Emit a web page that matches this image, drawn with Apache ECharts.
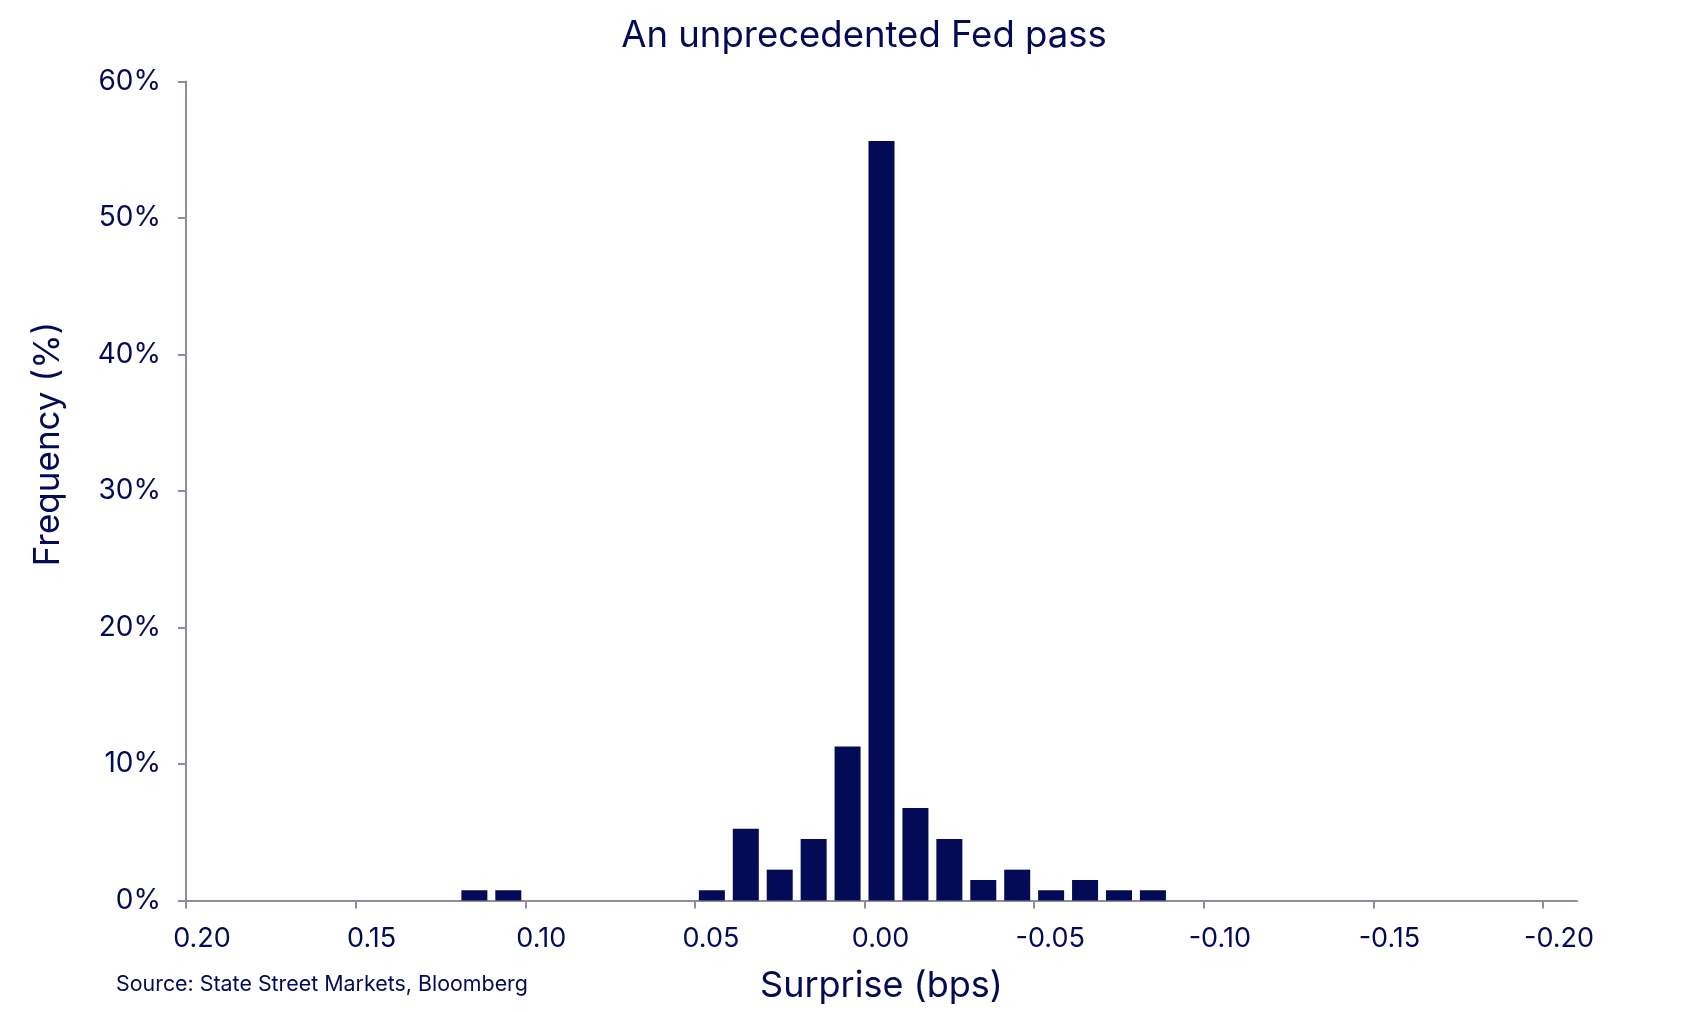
<!DOCTYPE html>
<html>
<head>
<meta charset="utf-8">
<script src="https://cdn.jsdelivr.net/npm/echarts@6/dist/echarts.min.js"></script>
<style>
html,body{margin:0;padding:0;background:#fff;}
#chart{width:1703px;height:1012px;}
</style>
</head>
<body>
<div id="chart"></div>
<script>
// Bin centres (surprise, bps) and frequency (%)
const binCenters = [0.115, 0.105, 0.045, 0.035, 0.025, 0.015, 0.005, -0.005, -0.015, -0.025, -0.035, -0.045, -0.055, -0.065, -0.075, -0.085];
const frequency  = [0.75, 0.75, 0.75, 5.26, 2.26, 4.51, 11.28, 55.64, 6.77, 4.51, 1.50, 2.26, 0.75, 1.50, 0.75, 0.75];
const xTicks = [0.2, 0.15, 0.1, 0.05, 0, -0.05, -0.1, -0.15, -0.2];
const yTicks = [0, 10, 20, 30, 40, 50, 60];

const NAVY = '#030a56';
const GREY = '#8d8d9d';
const FONT = 'Inter';

const chart = echarts.init(document.getElementById('chart'), null, {renderer: 'canvas'});
chart.setOption({
  backgroundColor: '#ffffff',
  animation: false,
  textStyle: {fontFamily: FONT, color: NAVY},
  title: {
    text: 'An unprecedented Fed pass',
    left: 859,
    textAlign: 'center',
    top: 13,
    textStyle: {fontFamily: FONT, fontSize: 36.5, fontWeight: 'normal', color: NAVY}
  },
  grid: {left: 186, right: 126, top: 81.5, bottom: 111.5, containLabel: false},
  xAxis: {
    type: 'value',
    inverse: true,
    min: -0.21,
    max: 0.2,
    name: 'Surprise (bps)',
    nameLocation: 'middle',
    nameGap: 68,
    nameTextStyle: {fontFamily: FONT, fontSize: 36, color: NAVY},
    axisLine: {show: true, onZero: false, lineStyle: {color: GREY, width: 2}},
    axisTick: {show: true, length: 8, lineStyle: {color: GREY, width: 2}, customValues: xTicks},
    axisLabel: {
      fontFamily: FONT, fontSize: 27, color: NAVY, margin: 25,
      padding: [0, 0, 0, 32],
      customValues: xTicks,
      formatter: v => (Math.abs(v) < 1e-9 ? 0 : v).toFixed(2)
    },
    splitLine: {show: false}
  },
  yAxis: {
    type: 'value',
    min: 0,
    max: 60,
    interval: 10,
    name: 'Frequency (%)',
    nameLocation: 'middle',
    nameGap: 120,
    nameRotate: 90,
    nameTextStyle: {fontFamily: FONT, fontSize: 35, color: NAVY, padding: [0, 0, 0, 94]},
    axisLine: {show: true, onZero: false, lineStyle: {color: GREY, width: 2}},
    axisTick: {show: true, length: 8, lineStyle: {color: GREY, width: 2}},
    axisLabel: {fontFamily: FONT, fontSize: 28, color: NAVY, margin: 25, formatter: '{value}%'},
    splitLine: {show: false}
  },
  graphic: [{
    type: 'text',
    left: 116,
    top: 974,
    style: {text: 'Source: State Street Markets, Bloomberg', fontFamily: FONT, fontSize: 21.4, fill: NAVY}
  }],
  series: [{
    type: 'bar',
    barWidth: 26,
    itemStyle: {color: NAVY},
    data: binCenters.map((x, i) => [x, frequency[i]])
  }]
});
</script>
</body>
</html>
